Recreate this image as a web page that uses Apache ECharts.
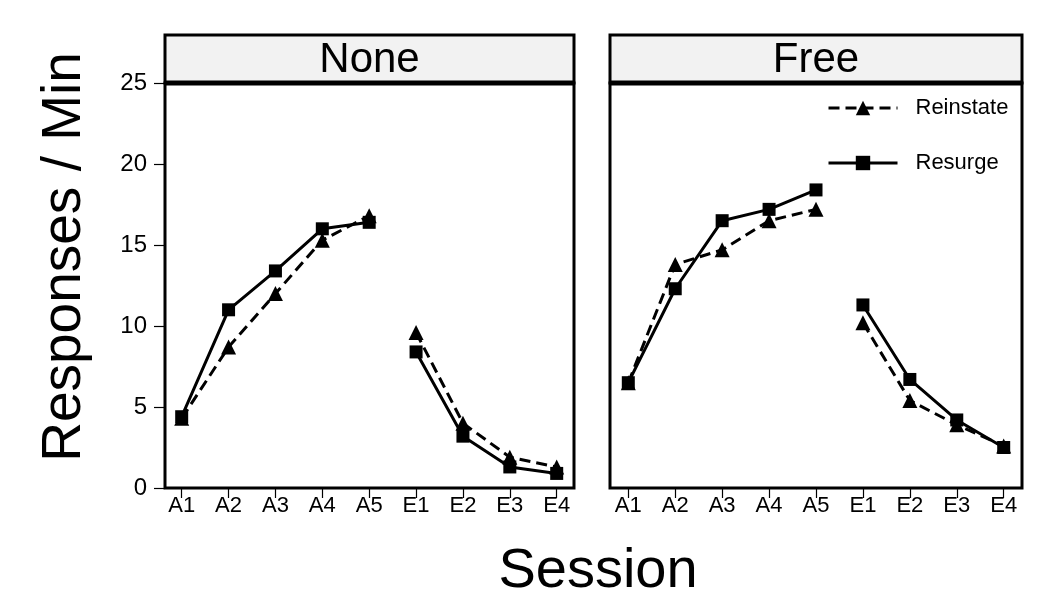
<!DOCTYPE html>
<html>
<head>
<meta charset="utf-8">
<script src="https://cdn.jsdelivr.net/npm/echarts@6/dist/echarts.min.js"></script>
<style>
html,body{margin:0;padding:0;background:#fff;}
#c{width:1050px;height:612px;}
</style>
</head>
<body>
<div id="c"></div>
<script>
// ---- data ----
const sessions = ['A1','A2','A3','A4','A5','E1','E2','E3','E4'];
const panels = ['None','Free'];
const yTicks = [0,5,10,15,20,25];
const noneReinstate = [4.3, 8.7, 12.0, 15.3, 16.8, 9.6, 4.0, 1.9, 1.3];
const noneResurge   = [4.4, 11.0, 13.4, 16.0, 16.4, 8.4, 3.2, 1.3, 0.9];
const freeReinstate = [6.5, 13.8, 14.7, 16.5, 17.2, 10.2, 5.4, 3.9, 2.6];
const freeResurge   = [6.5, 12.3, 16.5, 17.2, 18.4, 11.3, 6.7, 4.2, 2.5];

const FONT = 'Liberation Sans, Arial, sans-serif';
const panelData = [
  {Reinstate: noneReinstate, Resurge: noneResurge},
  {Reinstate: freeReinstate, Resurge: freeResurge}
];
const phases = [[0,1,2,3,4],[5,6,7,8]];
const styles = {
  Reinstate: {symbol: 'triangle', symbolSize: 15, type: [11, 6]},
  Resurge:   {symbol: 'rect', symbolSize: 13, type: 'solid'}
};

const gridsPos = [
  {left: 165, top: 83, width: 409, height: 405, min: -0.356, max: 8.369},
  {left: 610, top: 83, width: 412, height: 405, min: -0.39, max: 8.39}
];

const grids = [], xAxes = [], yAxes = [], series = [];
gridsPos.forEach((g, p) => {
  grids.push({left: g.left, top: g.top, width: g.width, height: g.height,
    show: true, borderColor: '#000', borderWidth: 3, backgroundColor: '#fff'});
  xAxes.push({
    type: 'value', gridIndex: p, min: g.min, max: g.max,
    axisLine: {show: false, onZero: false},
    splitLine: {show: false},
    axisTick: {show: true, inside: false, length: 10, customValues: sessions.map((s, i) => i),
      lineStyle: {color: '#000', width: 1.2}},
    axisLabel: {show: true, customValues: sessions.map((s, i) => i), margin: 7,
      formatter: v => sessions[Math.round(v)] || '',
      color: '#000', fontSize: 22, fontFamily: FONT}
  });
  yAxes.push({
    type: 'value', gridIndex: p, min: yTicks[0], max: yTicks[yTicks.length - 1], interval: 5,
    axisLine: {show: false, onZero: false},
    splitLine: {show: false},
    axisTick: {show: p === 0, inside: false, length: 11, lineStyle: {color: '#000', width: 1.2}},
    axisLabel: {show: p === 0, margin: 18, color: '#000', fontSize: 24, fontFamily: FONT}
  });
  ['Reinstate', 'Resurge'].forEach(name => {
    const vals = panelData[p][name];
    const st = styles[name];
    phases.forEach(idx => {
      series.push({
        type: 'line', name: name, xAxisIndex: p, yAxisIndex: p,
        data: idx.map(i => [i, vals[i]]),
        symbol: st.symbol, symbolSize: st.symbolSize,
        itemStyle: {color: '#000'},
        lineStyle: {color: '#000', width: 3, type: st.type},
        animation: false, z: name === 'Resurge' ? 3 : 2
      });
    });
  });
});

const graphics = [];
gridsPos.forEach((g, p) => {
  graphics.push({type: 'rect', shape: {x: g.left, y: 35, width: g.width, height: 48},
    style: {fill: '#f2f2f2', stroke: '#000', lineWidth: 3}, z: 1});
  graphics.push({type: 'line', shape: {x1: g.left, y1: 83, x2: g.left + g.width, y2: 83},
    style: {stroke: '#000', lineWidth: 5}, z: 5});
  graphics.push({type: 'text', x: g.left + g.width / 2, y: 60, z: 6,
    style: {text: panels[p], fill: '#000', font: '42px ' + FONT, textAlign: 'center', textVerticalAlign: 'middle'}});
});
graphics.push({type: 'text', x: 598, y: 572, z: 6,
  style: {text: 'Session', fill: '#000', font: '56px ' + FONT, textAlign: 'center', textVerticalAlign: 'middle'}});
graphics.push({type: 'text', x: 65, y: 257, rotation: Math.PI / 2, z: 6,
  style: {text: 'Responses / Min', fill: '#000', font: '55px ' + FONT, textAlign: 'center', textVerticalAlign: 'middle'}});

const chart = echarts.init(document.getElementById('c'));
chart.setOption({
  backgroundColor: '#fff',
  animation: false,
  grid: grids, xAxis: xAxes, yAxis: yAxes, series: series,
  legend: {
    data: ['Reinstate', 'Resurge'], orient: 'vertical',
    left: 822, top: 92, itemWidth: 69, itemHeight: 18, itemGap: 33,
    lineStyle: {width: 3},
    textStyle: {color: '#000', fontSize: 22, fontFamily: FONT, padding: [0, 0, 0, 13]},
    selectedMode: false
  },
  graphic: graphics
});
</script>
</body>
</html>
